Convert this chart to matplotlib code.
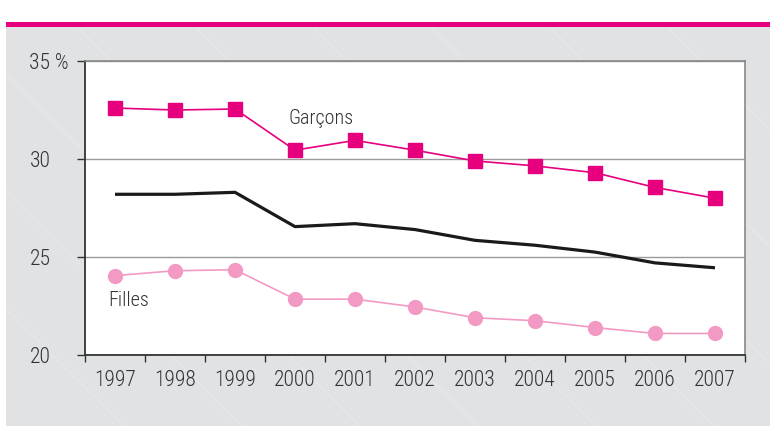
import matplotlib
matplotlib.use("Agg")
import matplotlib.pyplot as plt
import matplotlib.patches as patches
from matplotlib.lines import Line2D

years = ["1997", "1998", "1999", "2000", "2001", "2002", "2003", "2004", "2005", "2006", "2007"]
garcons = [32.6, 32.5, 32.55, 30.45, 30.95, 30.45, 29.9, 29.65, 29.3, 28.55, 28.0]
ensemble = [28.2, 28.2, 28.3, 26.55, 26.7, 26.4, 25.85, 25.6, 25.25, 24.7, 24.45]
filles = [24.05, 24.3, 24.35, 22.85, 22.85, 22.45, 21.9, 21.75, 21.4, 21.1, 21.1]
yticks = [20, 25, 30, 35]
ytick_labels = ["20", "25", "30", "35 %"]

MAGENTA = "#e6007e"
PINK = "#f39ac4"
PANEL = "#e1e2e4"
TEXT = "#333333"

plt.rcParams["font.family"] = ["Roboto Condensed", "DejaVu Sans"]
plt.rcParams["font.weight"] = "light"

W, H = 770, 426
fig = plt.figure(figsize=(W / 100, H / 100), dpi=100)
fig.patch.set_facecolor("white")

# grey panel + magenta band on top
fig.add_artist(patches.Rectangle((6 / W, 0), 1, 1 - 27 / H, transform=fig.transFigure,
                                 facecolor=PANEL, edgecolor="none", zorder=0))
fig.add_artist(patches.Rectangle((6 / W, 1 - 27 / H), 1, 5 / H, transform=fig.transFigure,
                                 facecolor=MAGENTA, edgecolor="none", zorder=0))
# faint diagonal stripes
for x0 in range(-400, 800, 118):
    fig.add_artist(Line2D([(x0 + 6) / W, (x0 + 406) / W], [1 - 28 / H, 0],
                          transform=fig.transFigure, color="white", lw=0.8,
                          alpha=0.22, zorder=0.5))

ax = fig.add_axes([85 / W, 1 - 355 / H, 660 / W, 294 / H])
ax.set_facecolor("white")
ax.set_zorder(2)

x = list(range(len(years)))
ax.plot(x, garcons, color=MAGENTA, lw=1.2, marker="s", ms=10, zorder=4)
ax.plot(x, ensemble, color="#1a1a1a", lw=2.3, solid_joinstyle="round",
        solid_capstyle="butt", zorder=3)
ax.plot(x, filles, color=PINK, lw=1.2, marker="o", ms=10, zorder=4)

ax.text(2.9, 32.05, "Garçons", fontsize=14.5, color=TEXT, va="center", ha="left")
ax.text(-0.12, 22.8, "Filles", fontsize=14.5, color=TEXT, va="center", ha="left")

ax.set_xlim(-0.5, len(years) - 0.5)
ax.set_ylim(20, 35)

ax.set_xticks(x)
ax.set_xticklabels(years, fontsize=15.5, color=TEXT)
ax.set_xticks([i - 0.5 for i in range(len(years) + 1)], minor=True)
ax.tick_params(axis="x", which="major", length=0, pad=11)
ax.tick_params(axis="x", which="minor", length=5, width=1, color="#333333", direction="out")

ax.set_yticks(yticks)
ax.set_yticklabels(ytick_labels, fontsize=15.5, color=TEXT)
ax.tick_params(axis="y", length=6, width=1, color="#333333", pad=34)
for lab in ax.get_yticklabels():
    lab.set_horizontalalignment("left")

ax.yaxis.grid(True, color="#9a9a9a", lw=1)
ax.set_axisbelow(True)

ax.spines["left"].set_color("#333333")
ax.spines["bottom"].set_color("#333333")
ax.spines["left"].set_linewidth(1.3)
ax.spines["bottom"].set_linewidth(1.3)
ax.spines["top"].set_color("#888888")
ax.spines["right"].set_color("#888888")
ax.spines["top"].set_linewidth(1.2)
ax.spines["right"].set_linewidth(1.2)

fig.savefig("out.png", dpi=100, facecolor=fig.get_facecolor())
